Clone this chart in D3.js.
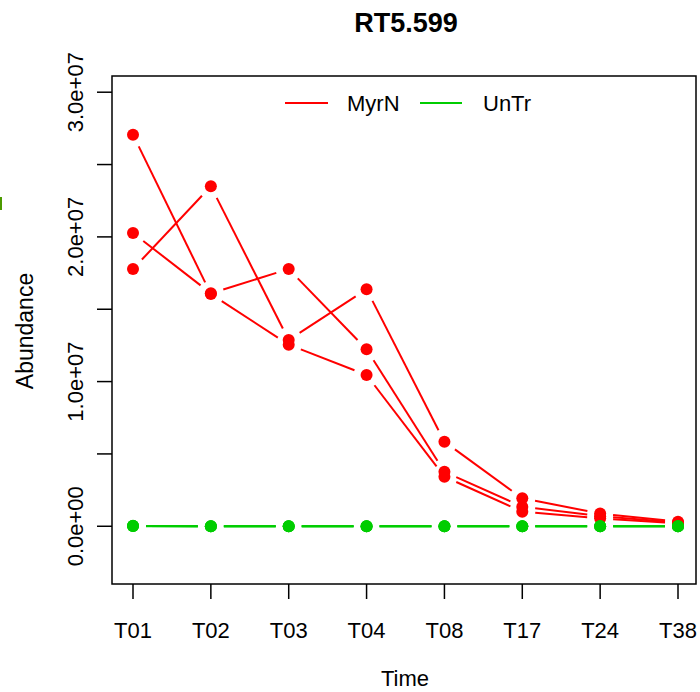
<!DOCTYPE html>
<html><head><meta charset="utf-8">
<script src="https://cdn.jsdelivr.net/npm/d3@7"></script>
<style>body{margin:0;background:#fff}svg{display:block}text{font-family:"Liberation Sans",Arial,sans-serif}</style>
</head><body>
<script>
const categories = ["T01","T02","T03","T04","T08","T17","T24","T38"];
const myrN1 = [27.06e6, 16.05e6, 12.55e6, 10.46e6, 3.43e6, 1.01e6, 0.55e6, 0.20e6];
const myrN2 = [20.27e6, 16.10e6, 17.78e6, 12.23e6, 3.77e6, 1.35e6, 0.70e6, 0.25e6];
const myrN3 = [17.78e6, 23.50e6, 12.87e6, 16.38e6, 5.84e6, 1.93e6, 0.88e6, 0.32e6];
const untr1 = [0.03e6, 0.0e6, 0.0e6, 0.0e6, 0.0e6, 0.0e6, 0.0e6, 0.0e6];
const untr2 = [0.02e6, 0.0e6, 0.0e6, 0.0e6, 0.0e6, 0.0e6, 0.0e6, 0.0e6];
const untr3 = [0.01e6, 0.0e6, 0.0e6, 0.0e6, 0.0e6, 0.0e6, 0.0e6, 0.0e6];
const yTicks = [0, 5e6, 10e6, 15e6, 20e6, 25e6, 30e6];
const yLabels = ["0.0e+00", "1.0e+07", "2.0e+07", "3.0e+07"];
const seriesNames = ["MyrN", "UnTr"];
const title = "RT5.599", xTitle = "Time", yTitle = "Abundance";

const W = 700, H = 692;
const box = {l:112, r:696, t:76, b:584};
const svg = d3.select("body").append("svg").attr("width", W).attr("height", H);

const x = d3.scalePoint().domain(categories).range([133, 678]);
const y = d3.scaleLinear().domain([-3.99e6, 31.12e6]).range([box.b, box.t]);

const series = [
  {vals: myrN1, color: "#ff0000"}, {vals: myrN2, color: "#ff0000"}, {vals: myrN3, color: "#ff0000"},
  {vals: untr1, color: "#00cd00"}, {vals: untr2, color: "#00cd00"}, {vals: untr3, color: "#00cd00"}
];

// R type="b": segments with gaps around points
const gap = 13;
const g = svg.append("g");
series.forEach(s => {
  const pts = s.vals.map((v, i) => [x(categories[i]), y(v)]);
  for (let i = 0; i < pts.length - 1; i++) {
    const [x0, y0] = pts[i], [x1, y1] = pts[i+1];
    const dx = x1 - x0, dy = y1 - y0, len = Math.hypot(dx, dy);
    if (len <= 2 * gap) continue;
    const ux = dx / len, uy = dy / len;
    g.append("line")
      .attr("x1", x0 + ux * gap).attr("y1", y0 + uy * gap)
      .attr("x2", x1 - ux * gap).attr("y2", y1 - uy * gap)
      .attr("stroke", s.color).attr("stroke-width", 2);
  }
});
series.forEach(s => {
  g.selectAll(null).data(s.vals).enter().append("circle")
    .attr("cx", (d, i) => x(categories[i])).attr("cy", d => y(d))
    .attr("r", 6).attr("fill", s.color);
});

// box
svg.append("rect").attr("x", box.l).attr("y", box.t)
  .attr("width", box.r - box.l).attr("height", box.b - box.t)
  .attr("fill", "none").attr("stroke", "#000").attr("stroke-width", 1.5);

// x axis
const xa = svg.append("g");
categories.forEach(c => {
  xa.append("line").attr("x1", x(c)).attr("x2", x(c)).attr("y1", box.b).attr("y2", box.b + 15)
    .attr("stroke", "#000").attr("stroke-width", 1.5);
  xa.append("text").attr("x", x(c)).attr("y", 638).attr("text-anchor", "middle")
    .attr("font-size", 22).text(c);
});

// y axis
const ya = svg.append("g");
yTicks.forEach(t => {
  ya.append("line").attr("x1", box.l - 15).attr("x2", box.l).attr("y1", y(t)).attr("y2", y(t))
    .attr("stroke", "#000").attr("stroke-width", 1.5);
});
yLabels.forEach(lab => {
  const v = +lab;
  ya.append("text").attr("transform", `translate(83,${y(v)}) rotate(-90)`)
    .attr("text-anchor", "middle").attr("font-size", 22).text(lab);
});

// titles
svg.append("text").attr("x", 406).attr("y", 32).attr("text-anchor", "middle")
  .attr("font-size", 27).attr("font-weight", "bold").text(title);
svg.append("text").attr("x", 405).attr("y", 686).attr("text-anchor", "middle")
  .attr("font-size", 22).text(xTitle);
svg.append("text").attr("transform", `translate(33,331) rotate(-90)`).attr("text-anchor", "middle")
  .attr("font-size", 23).text(yTitle);

// legend
const leg = [{x1:285, x2:328, tx:347, color:"#ff0000", name:seriesNames[0]},
             {x1:420, x2:462, tx:483, color:"#00cd00", name:seriesNames[1]}];
leg.forEach(l => {
  svg.append("line").attr("x1", l.x1).attr("x2", l.x2).attr("y1", 103).attr("y2", 103)
    .attr("stroke", l.color).attr("stroke-width", 2);
  svg.append("text").attr("x", l.tx).attr("y", 111).attr("font-size", 22).text(l.name);
});

// edge artifact from neighbouring panel
svg.append("rect").attr("x", 0).attr("y", 197).attr("width", 2).attr("height", 13).attr("fill", "#4c9a00");
</script>
</body></html>
